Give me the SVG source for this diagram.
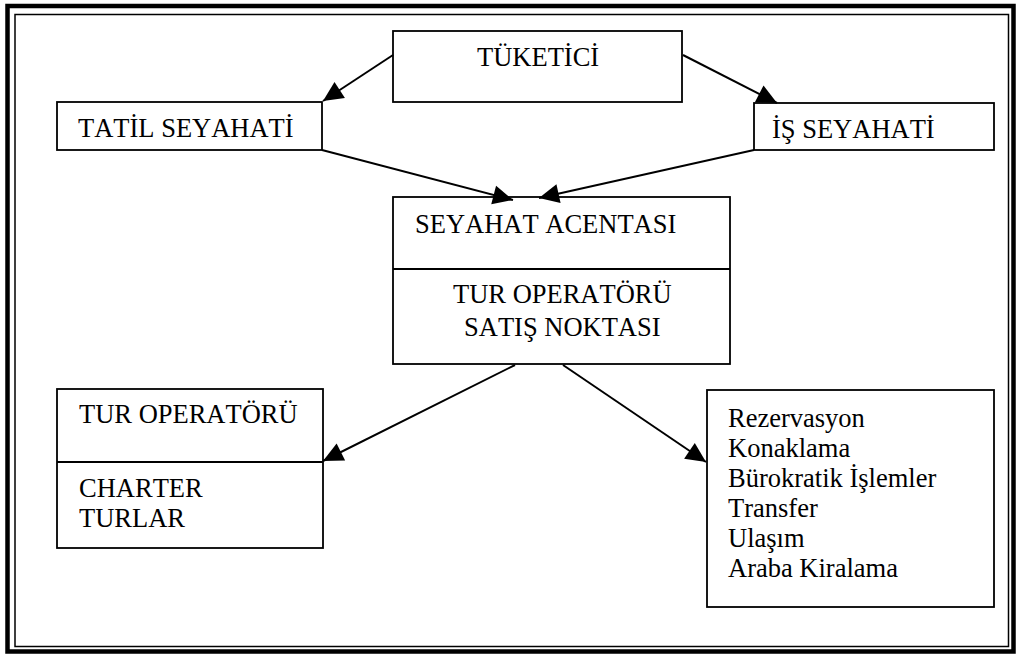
<svg xmlns="http://www.w3.org/2000/svg" width="1016" height="654" viewBox="0 0 1016 654">
<style>
.box{fill:#fff;stroke:#000;stroke-width:1.8}
.div{stroke:#000;stroke-width:1.8}
.c{stroke:#000;stroke-width:2;fill:none;marker-end:url(#ah)}
text{font-kerning:none;font-feature-settings:"kern" 0}
</style>
<defs>
<marker id="ah" markerUnits="userSpaceOnUse" markerWidth="21" markerHeight="20" refX="20" refY="9.5" orient="auto" overflow="visible">
<path d="M0,0 L20,9.5 L0,19 z" fill="#000"/>
</marker>
</defs>
<rect x="0" y="0" width="1016" height="654" fill="#fff"/>
<g id="frame">
<rect x="7.5" y="6" width="1006" height="645.5" fill="none" stroke="#000" stroke-width="4.5"/>
<rect x="15" y="14.5" width="993.5" height="632" fill="none" stroke="#000" stroke-width="1.5"/>
</g>
<g font-family="Liberation Serif, Times New Roman, serif" font-size="26.5" fill="#000">
<g id="tuketici">
<rect class="box" x="393" y="31" width="289" height="71"/>
<text x="477" y="66">TÜKETİCİ</text>
</g>
<g id="tatil">
<rect class="box" x="57" y="102" width="265" height="48"/>
<text x="78" y="137">TATİL SEYAHATİ</text>
</g>
<g id="is">
<rect class="box" x="754" y="103" width="240" height="47"/>
<text x="772" y="138">İŞ SEYAHATİ</text>
</g>
<g id="acenta">
<rect class="box" x="393" y="197" width="337" height="167"/>
<line class="div" x1="393" y1="269" x2="730" y2="269"/>
<text x="415" y="233">SEYAHAT ACENTASI</text>
<text x="453" y="303">TUR OPERATÖRÜ</text>
<text x="464" y="336">SATIŞ NOKTASI</text>
</g>
<g id="turop">
<rect class="box" x="57" y="389" width="266" height="159"/>
<line class="div" x1="57" y1="462" x2="323" y2="462"/>
<text x="79" y="423">TUR OPERATÖRÜ</text>
<text x="79" y="497">CHARTER</text>
<text x="79" y="527">TURLAR</text>
</g>
<g id="hizmetler">
<rect class="box" x="707" y="390" width="287" height="217"/>
<text x="728" y="427">Rezervasyon</text>
<text x="728" y="457">Konaklama</text>
<text x="728" y="487">Bürokratik İşlemler</text>
<text x="728" y="517">Transfer</text>
<text x="728" y="547">Ulaşım</text>
<text x="728" y="577">Araba Kiralama</text>
</g>
</g>
<g id="connectors">
<line class="c" x1="393" y1="55" x2="323" y2="101"/>
<line class="c" x1="683" y1="55" x2="777" y2="103"/>
<line class="c" x1="322" y1="150" x2="513" y2="200"/>
<line class="c" x1="754" y1="150" x2="539" y2="198"/>
<line class="c" x1="515" y1="365" x2="323" y2="461"/>
<line class="c" x1="563" y1="365" x2="706" y2="462"/>
</g>
</svg>
